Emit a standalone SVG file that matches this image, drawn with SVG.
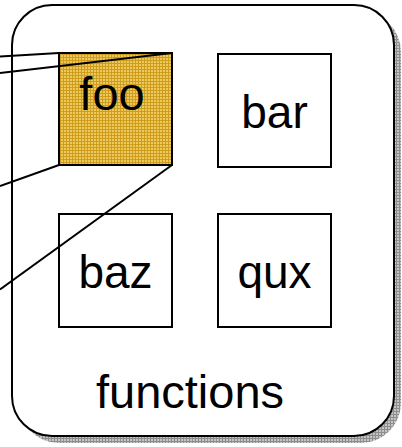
<svg xmlns="http://www.w3.org/2000/svg" width="402" height="447" viewBox="0 0 402 447">
  <defs>
    <!-- grey cross-hatched drop shadow -->
    <pattern id="shadeGrid" width="3" height="3" patternUnits="userSpaceOnUse">
      <rect width="3" height="3" fill="#c4c4c4"/>
      <path d="M0 0.5H3M0.5 0V3" stroke="#8e8e8e" stroke-width="1"/>
    </pattern>
    <!-- gold cross-hatched highlight fill -->
    <pattern id="goldGrid" width="3" height="3" patternUnits="userSpaceOnUse">
      <rect width="3" height="3" fill="#ecc95f"/>
      <path d="M0 0.5H3M0.5 0V3" stroke="#cf9c1c" stroke-width="1"/>
    </pattern>
    <!-- connector darkens where it runs over the gold box -->
    <linearGradient id="overFoo" gradientUnits="userSpaceOnUse" x1="0" y1="0" x2="172" y2="0">
      <stop offset="0.343" stop-color="#000"/>
      <stop offset="0.343" stop-color="#6e5612"/>
    </linearGradient>
  </defs>
  <style>
    .box { fill: #fff; stroke: #000; stroke-width: 2; }
    .lbl { font-family: "Liberation Sans", Arial, sans-serif; font-size: 46px; fill: #000; text-anchor: middle; }
    .conn { stroke: #000; stroke-width: 2; fill: none; }
  </style>

  <rect width="402" height="447" fill="#fff"/>

  <!-- container -->
  <g id="functions">
    <rect x="19" y="12" width="382" height="431" rx="40" fill="url(#shadeGrid)"/>
    <rect x="12" y="5" width="382" height="431" rx="40" fill="#fff" stroke="#000" stroke-width="2"/>
    <text class="lbl" x="190" y="408" style="font-size:47px">functions</text>
  </g>

  <g id="baz">
    <rect x="59" y="214" width="113" height="113" class="box"/>
    <text class="lbl" x="115.5" y="288">baz</text>
  </g>
  <g id="bar">
    <rect x="218" y="54" width="113" height="113" class="box"/>
    <text class="lbl" x="274.5" y="128">bar</text>
  </g>
  <g id="qux">
    <rect x="218" y="214" width="113" height="113" class="box"/>
    <text class="lbl" x="274.5" y="288">qux</text>
  </g>
  <g id="foo">
    <rect x="59" y="53" width="113" height="112" fill="url(#goldGrid)" stroke="#000" stroke-width="2"/>
    <text class="lbl" x="112" y="110" style="font-size:47px">foo</text>
  </g>

  <!-- connectors fanning in from the left to the corners of foo -->
  <g id="connectors">
    <line class="conn" x1="0" y1="56.5" x2="59" y2="53"/>
    <line class="conn" x1="0" y1="73" x2="172" y2="53" stroke="url(#overFoo)"/>
    <line class="conn" x1="0" y1="186" x2="59" y2="165"/>
    <line class="conn" x1="0" y1="289.5" x2="172" y2="165"/>
  </g>
</svg>
